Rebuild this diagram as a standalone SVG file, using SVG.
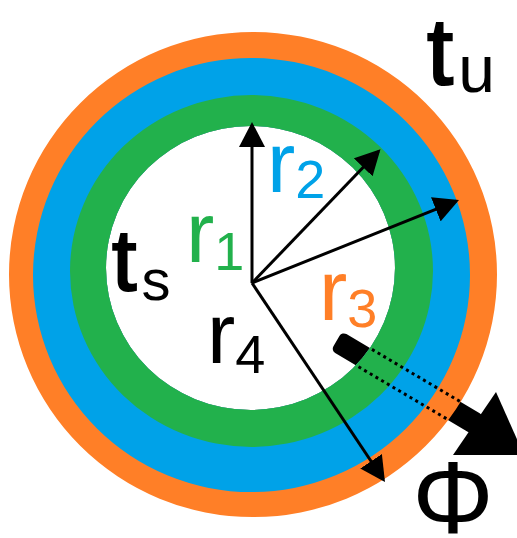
<svg xmlns="http://www.w3.org/2000/svg" width="517" height="538" viewBox="0 0 517 538">
  <style>
    .lbl { font-family: "Liberation Sans", Arial, sans-serif; font-size: 85px; }
    .sub { font-size: 54px; }
    .heavy { stroke: #000; stroke-width: 2.2; }
    .radius { stroke: #000; stroke-width: 3; fill: none; marker-end: url(#head); }
    .dots { stroke: #000; stroke-width: 3; stroke-dasharray: 3 3.6; fill: none; }
  </style>
  <defs>
    <marker id="head" viewBox="0 0 25 26" refX="22" refY="13" markerWidth="25" markerHeight="26" markerUnits="userSpaceOnUse" orient="auto">
      <path d="M0,0 L25,13 L0,26 Z" fill="#000"/>
    </marker>
  </defs>
  <rect width="517" height="538" fill="#fff"/>

  <g id="flux-arrow">
    <g transform="translate(336.5,341) rotate(30.7)">
      <rect x="0" y="-11" width="165" height="22" rx="5" fill="#000"/>
    </g>
    <polygon points="496,392 453,455 524,455" fill="#000"/>
  </g>

  <g id="rings" fill-rule="evenodd">
    <path id="ring-orange" fill="#FF7F27" d="M9,274.5 a244,242.5 0 1,0 488,0 a244,242.5 0 1,0 -488,0 Z M106,268 a144.5,142 0 1,0 289,0 a144.5,142 0 1,0 -289,0 Z"/>
    <path id="ring-blue" fill="#00A2E8" d="M33,275 a218.5,217 0 1,0 437,0 a218.5,217 0 1,0 -437,0 Z M106,268 a144.5,142 0 1,0 289,0 a144.5,142 0 1,0 -289,0 Z"/>
    <path id="ring-green" fill="#22B14C" d="M70,271 a181.5,176 0 1,0 363,0 a181.5,176 0 1,0 -363,0 Z M106,268 a144.5,142 0 1,0 289,0 a144.5,142 0 1,0 -289,0 Z"/>
  </g>

  <g id="hidden-flux">
    <line class="dots" x1="372" y1="349.4" x2="462.4" y2="402.9"/>
    <line class="dots" x1="358.5" y1="366.8" x2="447" y2="419"/>
  </g>

  <g id="connectors">
    <line class="radius" x1="252" y1="283" x2="252" y2="125"/>
    <line class="radius" x1="252" y1="283" x2="378.4" y2="151.5"/>
    <line class="radius" x1="252" y1="283" x2="456.2" y2="201.1"/>
    <line class="radius" x1="252" y1="283" x2="383.3" y2="479.5"/>
  </g>

  <g id="labels" class="lbl">
    <text id="r1" x="186" y="262" fill="#22B14C">r<tspan class="sub" dy="8">1</tspan></text>
    <text id="r2" x="267" y="192" fill="#00A2E8">r<tspan class="sub" dy="6">2</tspan></text>
    <text id="r3" x="319" y="320" fill="#FF7F27">r<tspan class="sub" dy="7">3</tspan></text>
    <text id="r4" x="207" y="363" fill="#000">r<tspan class="sub" dy="10">4</tspan></text>
    <text id="ts" x="112" y="290" fill="#000"><tspan class="heavy" font-size="88">t</tspan><tspan font-size="58" dx="5" dy="10">s</tspan></text>
    <text id="tu" x="427" y="84" fill="#000"><tspan class="heavy" font-size="94">t</tspan><tspan font-size="66" dx="5" dy="8">u</tspan></text>
    <text id="phi" x="453" y="533" fill="#000" font-size="102" text-anchor="middle">Φ</text>
  </g>
</svg>
